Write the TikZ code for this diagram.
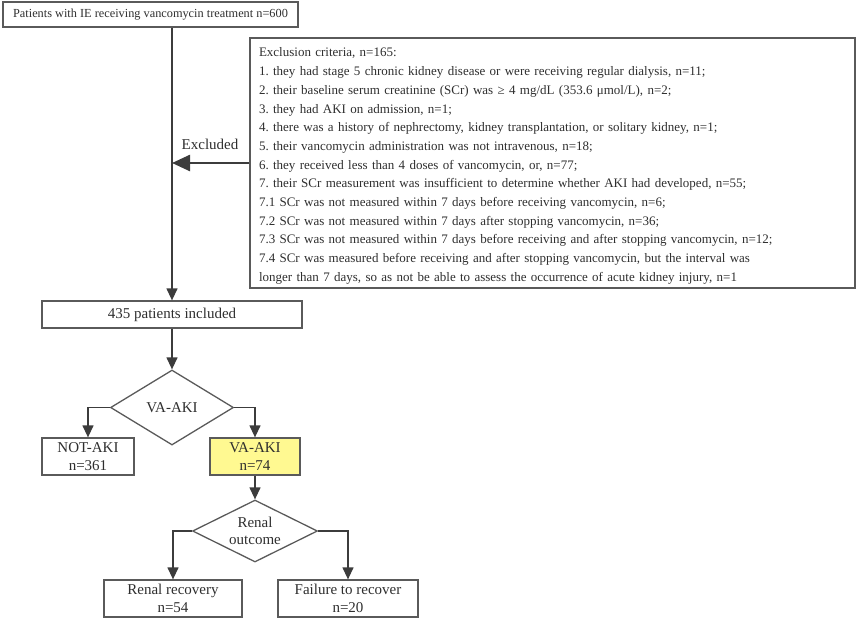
\documentclass[tikz,border=0pt]{standalone}
\usepackage{fontspec}
\setmainfont{Liberation Serif}
\usetikzlibrary{arrows.meta,shapes.geometric}
\definecolor{boxgray}{HTML}{5A5A5A}
\definecolor{linegray}{HTML}{3C3C3C}
\definecolor{txt}{HTML}{2E2E2E}
\definecolor{yel}{HTML}{FFF991}
\frenchspacing
\begin{document}
\begin{tikzpicture}[x=1pt,y=-1pt,
  box/.style={draw=boxgray, line width=1.3pt, inner sep=0pt, align=center, text=txt, font=\fontsize{15}{18.5}\selectfont},
  dia/.style={diamond, draw=boxgray, line width=1.3pt, inner sep=0pt},
  lbl/.style={inner sep=0pt, align=center, text=txt, font=\fontsize{15}{17.5}\selectfont},
  arr/.style={draw=linegray, line width=1.3pt, -{Triangle[length=12pt,width=11pt]}},
]
\useasboundingbox (0,0) rectangle (858,619);
\node[box, minimum width=295, minimum height=25, font=\fontsize{12.3}{16}\selectfont] (top) at (150.5,14.5) {Patients with IE receiving vancomycin treatment n=600};
\node[box, minimum width=605, minimum height=250] (excl) at (552.5,163) {};
\node[lbl, text width=587, align=left, font=\fontsize{13}{18.7}\selectfont] (excltext) at ([yshift=-3]excl.center) {Exclusion criteria, n=165:\\
1. they had stage 5 chronic kidney disease or were receiving regular dialysis, n=11;\\
2. their baseline serum creatinine (SCr) was ≥ 4 mg/dL (353.6 μmol/L), n=2;\\
3. they had AKI on admission, n=1;\\
4. there was a history of nephrectomy, kidney transplantation, or solitary kidney, n=1;\\
5. their vancomycin administration was not intravenous, n=18;\\
6. they received less than 4 doses of vancomycin, or, n=77;\\
7. their SCr measurement was insufficient to determine whether AKI had developed, n=55;\\
7.1 SCr was not measured within 7 days before receiving vancomycin, n=6;\\
7.2 SCr was not measured within 7 days after stopping vancomycin, n=36;\\
7.3 SCr was not measured within 7 days before receiving and after stopping vancomycin, n=12;\\
7.4 SCr was measured before receiving and after stopping vancomycin, but the interval was\\
longer than 7 days, so as not be able to assess the occurrence of acute kidney injury, n=1};
\node[box, minimum width=260, minimum height=27] (incl) at (172,314.5) {435 patients included};
\node[dia, minimum width=123, minimum height=75] (d1) at (172,407.5) {};
\node[lbl] (d1t) at (d1.center) {VA-AKI};
\node[box, minimum width=92, minimum height=37] (notaki) at (88,456.5) {NOT-AKI\\n=361};
\node[box, fill=yel, minimum width=90, minimum height=37] (vaaki) at (255,456.5) {VA-AKI\\n=74};
\node[dia, minimum width=125, minimum height=62] (d2) at (255,531) {};
\node[lbl] (d2t) at (d2.center) {Renal\\outcome};
\node[box, minimum width=138, minimum height=37] (rec) at (173,598.5) {Renal recovery\\n=54};
\node[box, minimum width=140, minimum height=37] (fail) at (348,598.5) {Failure to recover\\n=20};
\coordinate (j) at (top.south -| incl.north);
\coordinate (jx) at (excl.west -| incl.north);
\draw[arr] (j) -- (incl.north);
\draw[draw=linegray, line width=2.5pt, -{Triangle[length=18pt,width=16pt]}] (excl.west) -- (jx);
\node[lbl] (exlab) at (210,144) {Excluded};
\draw[arr] (incl.south) -- (d1.north);
\draw[arr] (d1.west) -| (notaki.north);
\draw[arr] (d1.east) -| (vaaki.north);
\draw[arr] (vaaki.south) -- (d2.north);
\draw[arr] (d2.west) -| (rec.north);
\draw[arr] (d2.east) -| (fail.north);
\end{tikzpicture}
\end{document}
